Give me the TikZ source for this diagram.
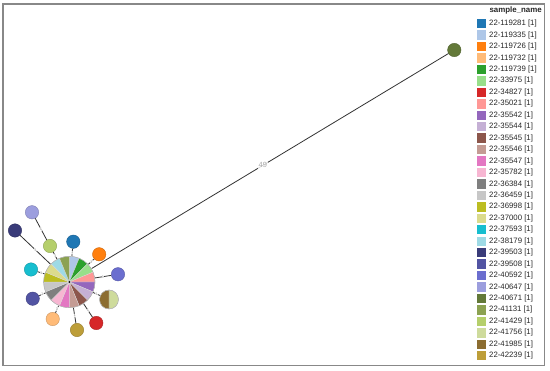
\documentclass[tikz,border=0pt]{standalone}
\usepackage{fontspec}
\setmainfont{Liberation Sans}
\definecolor{edgecol}{HTML}{333333}
\definecolor{framecol}{HTML}{888888}
\definecolor{labcol}{HTML}{AAAAAA}
\begin{document}
\begin{tikzpicture}[x=1pt,y=-1pt,
  edge/.style={draw=edgecol,line width=0.8pt},
  elab/.style={midway,fill=white,fill opacity=0.8,text opacity=1,text=labcol,inner sep=0.3pt,font=\fontsize{4}{4}\selectfont},
  sat/.style={circle,inner sep=0pt,minimum size=13.4pt,line width=0.4pt},
  legsq/.style={minimum size=9.4pt,inner sep=0pt},
  legtxt/.style={anchor=west,inner sep=0pt,font=\fontsize{7.8}{8}\selectfont,text=black!85}]
\useasboundingbox (0,0) rectangle (550,371);
\fill[white] (0,0) rectangle (550,371);
\draw[framecol,line width=1.3pt] (3,4) rectangle (544.5,365.7);

% colours
\definecolor{k119281}{HTML}{1F77B4}
\definecolor{k119726}{HTML}{FF7F0E}
\definecolor{k119732}{HTML}{FFBB78}
\definecolor{k34827}{HTML}{D62728}
\definecolor{k37593}{HTML}{17BECF}
\definecolor{k39503}{HTML}{393B79}
\definecolor{k39508}{HTML}{5254A3}
\definecolor{k40592}{HTML}{6B6ECF}
\definecolor{k40647}{HTML}{9C9EDE}
\definecolor{k40671}{HTML}{637939}
\definecolor{k41429}{HTML}{B5CF6B}
\definecolor{k41756}{HTML}{CEDB9C}
\definecolor{k41985}{HTML}{8C6D31}
\definecolor{k42239}{HTML}{BD9E39}

% nodes
\node[circle,inner sep=0pt,minimum size=51.4pt] (c) at (69.3,282) {};
\node[circle,inner sep=0pt,minimum size=19pt] (p2) at (109,299.5) {};
\node[sat,fill=k119281,draw=k119281!80!black] (n119281) at (73.3,241.7) {};
\node[sat,fill=k119726,draw=k119726!80!black] (n119726) at (99.2,254.3) {};
\node[sat,fill=k40592,draw=k40592!80!black] (n40592) at (118,274.3) {};
\node[sat,fill=k34827,draw=k34827!80!black] (n34827) at (96.3,323) {};
\node[sat,fill=k42239,draw=k42239!80!black] (n42239) at (77,330) {};
\node[sat,fill=k119732,draw=k119732!80!black] (n119732) at (52.7,319) {};
\node[sat,fill=k39508,draw=k39508!80!black] (n39508) at (32.7,298.7) {};
\node[sat,fill=k37593,draw=k37593!80!black] (n37593) at (31,269.5) {};
\node[sat,fill=k41429,draw=k41429!80!black] (n41429) at (50,246) {};
\node[sat,fill=k39503,draw=k39503!80!black] (n39503) at (15,230.5) {};
\node[sat,fill=k40647,draw=k40647!80!black] (n40647) at (32,212.3) {};
\node[sat,fill=k40671,draw=k40671!80!black] (n40671) at (454.3,50) {};

% connectors
\draw[edge] (c) -- (n119281) node[elab]{1};
\draw[edge] (c) -- (n119726) node[elab]{1};
\draw[edge] (c) -- (n40592) node[elab]{1};
\draw[edge] (c) -- (p2) node[elab]{1};
\draw[edge] (c) -- (n34827) node[elab]{1};
\draw[edge] (c) -- (n42239) node[elab]{1};
\draw[edge] (c) -- (n119732) node[elab]{1};
\draw[edge] (c) -- (n39508) node[elab]{1};
\draw[edge] (c) -- (n37593) node[elab]{1};
\draw[edge] (c) -- (n41429) node[elab]{1};
\draw[edge] (c) -- (n39503) node[elab]{1};
\draw[edge] (n41429) -- (n40647) node[elab]{1};
\draw[edge] (c) -- (n40671) node[pos=0.48,fill=white,fill opacity=0.8,text opacity=1,text=labcol,inner sep=0.6pt,font=\fontsize{7.5}{7.5}\selectfont]{49};

% central pie
\foreach \col [count=\i from 0] in {AEC7E8,2CA02C,98DF8A,FF9896,9467BD,C5B0D5,8C564B,C49C94,E377C2,F7B6D2,7F7F7F,C7C7C7,BCBD22,DBDB8D,9EDAE5,8CA252}{
  \definecolor{tmp}{HTML}{\col}
  \filldraw[fill=tmp,draw=white!70!gray,line width=0.3pt] (c.center) -- ++({-90+22.5*\i}:25.7) arc[start angle={-90+22.5*\i},delta angle=22.5,radius=25.7] -- cycle;
}
\draw[gray!70,line width=0.4pt] (c.center) circle[radius=25.7];
\fill[black] (c.center) circle[radius=1];

% two-sample pie
\filldraw[fill=k41756,draw=white!70!gray,line width=0.3pt] (p2.center) -- ++(-90:9.5) arc[start angle=-90,delta angle=180,radius=9.5] -- cycle;
\filldraw[fill=k41985,draw=white!70!gray,line width=0.3pt] (p2.center) -- ++(90:9.5) arc[start angle=90,delta angle=180,radius=9.5] -- cycle;
\draw[gray!70,line width=0.4pt] (p2.center) circle[radius=9.5];

% legend
\node[anchor=east,inner sep=0pt,font=\bfseries\fontsize{7.9}{8}\selectfont,text=black!85] (legtitle) at (542,10) {sample\_name};
\foreach \nm/\col [count=\i from 0] in {22-119281/1F77B4,22-119335/AEC7E8,22-119726/FF7F0E,22-119732/FFBB78,22-119739/2CA02C,22-33975/98DF8A,22-34827/D62728,22-35021/FF9896,22-35542/9467BD,22-35544/C5B0D5,22-35545/8C564B,22-35546/C49C94,22-35547/E377C2,22-35782/F7B6D2,22-36384/7F7F7F,22-36459/C7C7C7,22-36998/BCBD22,22-37000/DBDB8D,22-37593/17BECF,22-38179/9EDAE5,22-39503/393B79,22-39508/5254A3,22-40592/6B6ECF,22-40647/9C9EDE,22-40671/637939,22-41131/8CA252,22-41429/B5CF6B,22-41756/CEDB9C,22-41985/8C6D31,22-42239/BD9E39}{
  \definecolor{tmp}{HTML}{\col}
  \node[legsq,fill=tmp] (sq\i) at (481.5,{23.7+11.45*\i}) {};
  \node[legtxt] (lt\i) at (489,{23.7+11.45*\i}) {\nm\ [1]};
}
\end{tikzpicture}
\end{document}
